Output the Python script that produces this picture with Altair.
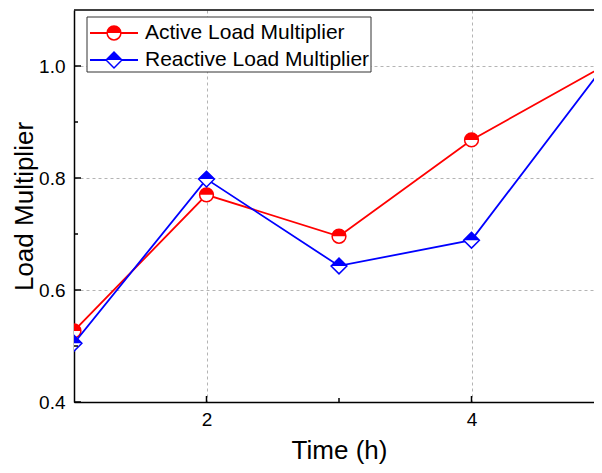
import altair as alt
import pandas as pd

# ---- data ----
times = [1, 2, 3, 4, 5]
active = [0.527, 0.770, 0.696, 0.868, 1.0]
reactive = [0.505, 0.798, 0.643, 0.689, 1.0]
series_names = ["Active Load Multiplier", "Reactive Load Multiplier"]
series_values = [active, reactive]
colors = ["#ff0000", "#0000ff"]
full_shapes = ["circle", "diamond"]
half_shapes = ["M -1 0 A 1 1 0 0 1 1 0 Z", "M -1 0 L 0 -1 L 1 0 Z"]
marker_sizes = [190, 250]
x_major = [2, 4]
x_minor = [3]
y_major = [0.4, 0.6, 0.8, 1.0]
y_minor = [0.5, 0.7, 0.9]

# plot area: 132.5 px per hour; visible part ends at the page edge
W, H = 520, 392
FONT = "Liberation Sans"

xs = alt.Scale(domain=[1, 1 + W / 132.5], nice=False, zero=False)
ys = alt.Scale(domain=[0.4, 1.1], nice=False, zero=False)

x_axis = alt.Axis(values=x_major, format="d", title="Time (h)", titleX=265, titleY=56)
y_axis = alt.Axis(values=y_major, format=".1f", title="Load Multiplier",
                  titleX=-42, titleY=196, titleAngle=270)

layers = []
for i, (name, vals) in enumerate(zip(series_names, series_values)):
    df = pd.DataFrame({"t": times, "v": vals, "s": name})
    if i == 0:
        xe = alt.X("t:Q", scale=xs, axis=x_axis)
        ye = alt.Y("v:Q", scale=ys, axis=y_axis)
    else:
        xe = alt.X("t:Q", scale=xs)
        ye = alt.Y("v:Q", scale=ys)
    base = alt.Chart(df).encode(x=xe, y=ye)
    line = base.mark_line(color=colors[i], strokeWidth=1.8, clip=True)
    full = base.mark_point(shape=full_shapes[i], filled=True, fill="white",
                           stroke=colors[i], strokeWidth=1.5, size=marker_sizes[i],
                           opacity=1, clip=True)
    half = base.mark_point(shape=half_shapes[i], filled=True, fill=colors[i],
                           strokeWidth=0, size=marker_sizes[i], opacity=1, clip=True)
    layers += [line, full, half]

# inward ticks
for t, ln in [(t, 6) for t in x_major] + [(t, 4) for t in x_minor]:
    layers.append(alt.Chart(pd.DataFrame({"t": [t]})).mark_rule(color="black", strokeWidth=1.5).encode(
        x=alt.X("t:Q", scale=xs), y=alt.value(H), y2=alt.value(H - ln)))
for v, ln in [(v, 7) for v in y_major] + [(v, 4) for v in y_minor]:
    layers.append(alt.Chart(pd.DataFrame({"v": [v]})).mark_rule(color="black", strokeWidth=1.5).encode(
        y=alt.Y("v:Q", scale=ys), x=alt.value(0), x2=alt.value(ln)))

# top border
one = pd.DataFrame({"a": [0]})
layers.append(alt.Chart(one).mark_rule(color="black", strokeWidth=1.5).encode(
    x=alt.value(0), x2=alt.value(W), y=alt.value(0)))

# legend
layers.append(alt.Chart(one).mark_rect(fill="white", stroke="#333333", strokeWidth=1).encode(
    x=alt.value(13), x2=alt.value(297), y=alt.value(7), y2=alt.value(62)))
rows_y = [23, 50]
for i, name in enumerate(series_names):
    ldf = pd.DataFrame({"s": [name]})
    yy = rows_y[i]
    layers.append(alt.Chart(ldf).mark_rule(color=colors[i], strokeWidth=1.8).encode(
        x=alt.value(16), x2=alt.value(64), y=alt.value(yy)))
    layers.append(alt.Chart(ldf).mark_point(shape=full_shapes[i], filled=True, fill="white",
                                            stroke=colors[i], strokeWidth=1.5,
                                            size=marker_sizes[i], opacity=1).encode(
        x=alt.value(40), y=alt.value(yy)))
    layers.append(alt.Chart(ldf).mark_point(shape=half_shapes[i], filled=True, fill=colors[i],
                                            strokeWidth=0, size=marker_sizes[i], opacity=1).encode(
        x=alt.value(40), y=alt.value(yy)))
    layers.append(alt.Chart(ldf).mark_text(align="left", baseline="middle", fontSize=21,
                                           font=FONT, color="black").encode(
        x=alt.value(71), y=alt.value(yy), text="s:N"))

axis_style = dict(grid=True, gridDash=[3, 3], gridColor="#b4b4b4", gridWidth=1,
                  ticks=False, labelFontSize=19, labelFont=FONT, labelColor="black",
                  titleFont=FONT, titleFontSize=26, titleFontWeight="normal",
                  titleColor="black", titleBaseline="alphabetic", titleAlign="center",
                  domainColor="black", domainWidth=1.5, labelFlush=False)

chart = alt.layer(*layers).properties(
    width=W, height=H,
    background="white",
    autosize=alt.AutoSizeParams(type="none"),
    padding={"left": 66, "top": 2, "right": 0, "bottom": 63},
).configure_view(stroke="transparent", strokeWidth=0
).configure_axisX(labelPadding=8, **axis_style
).configure_axisY(labelPadding=9, **axis_style)

chart.save("out.html", embed_options={"renderer": "svg", "actions": False})
